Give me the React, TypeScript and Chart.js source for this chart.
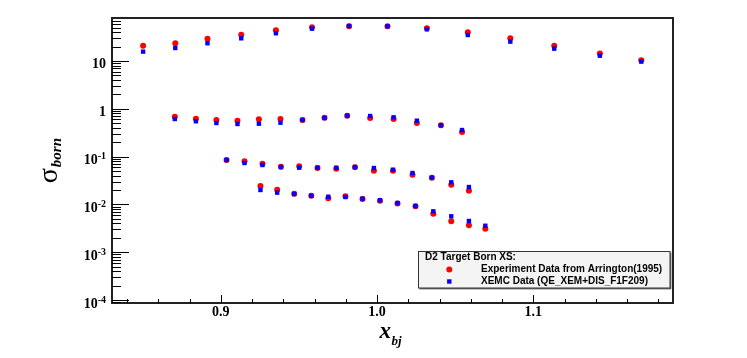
import React, { useEffect, useRef } from "react";
import { Chart, registerables } from "chart.js";

Chart.register(...registerables);

// Row 1 (highest cross sections)
const xRow1 = [0.8503, 0.8709, 0.8915, 0.9131, 0.9353, 0.9584, 0.9821, 1.0067, 1.0319, 1.0581, 1.0853, 1.1134, 1.1426, 1.1691];
const expRow1 = [20.9, 23.5, 29.3, 35.5, 43.8, 50.7, 53.2, 53.2, 48.3, 39.8, 29.8, 20.9, 14.4, 10.4];
const xemcRow1 = [15.7, 18.7, 23.5, 29.8, 38.0, 47.4, 54.0, 53.2, 46.0, 35.0, 25.4, 18.1, 12.9, 9.7];

// Row 2
const xRow2 = [0.8706, 0.8841, 0.8972, 0.9107, 0.9244, 0.9382, 0.9523, 0.9664, 0.9809, 0.9956, 1.0106, 1.0255, 1.0409, 1.0544];
const expRow2 = [0.684, 0.621, 0.583, 0.564, 0.603, 0.612, 0.583, 0.651, 0.717, 0.642, 0.612, 0.505, 0.452, 0.327];
const xemcRow2 = [0.612, 0.548, 0.505, 0.481, 0.488, 0.512, 0.583, 0.642, 0.717, 0.707, 0.664, 0.564, 0.452, 0.360];

// Row 3
const xRow3 = [0.9037, 0.9152, 0.9267, 0.9385, 0.9502, 0.9619, 0.9739, 0.9859, 0.998, 1.0102, 1.0227, 1.0351, 1.0475, 1.0588];
const expRow3 = [0.0849, 0.0797, 0.071, 0.0615, 0.0626, 0.0578, 0.0558, 0.0597, 0.0507, 0.0507, 0.0418, 0.0362, 0.0258, 0.0194];
const xemcRow3 = [0.0849, 0.0735, 0.0667, 0.0605, 0.0586, 0.0586, 0.0586, 0.0605, 0.0578, 0.0532, 0.0454, 0.0362, 0.029, 0.0231];

// Row 4 (lowest cross sections)
const xRow4 = [0.9254, 0.9361, 0.947, 0.9579, 0.9688, 0.9798, 0.9907, 1.0019, 1.0131, 1.0246, 1.036, 1.0475, 1.0588, 1.0693];
const expRow4 = [0.0243, 0.0203, 0.0168, 0.0152, 0.0134, 0.0148, 0.013, 0.0119, 0.0105, 0.00912, 0.00639, 0.00443, 0.00365, 0.0031];
const xemcRow4 = [0.02, 0.0176, 0.0165, 0.0152, 0.0145, 0.0143, 0.0132, 0.0122, 0.0107, 0.00926, 0.00717, 0.00564, 0.0045, 0.00358];

const xTickLabels = ["0.9", "1.0", "1.1"];
const yDecades = [-4, -3, -2, -1, 0, 1];

const legendHeader = "D2 Target Born XS:";
const legendExp = "Experiment Data from Arrington(1995)";
const legendXemc = "XEMC Data (QE_XEM+DIS_F1F209)";

const X_MIN = 0.8304;
const X_MAX = 1.1894;
const Y_MIN = 8.66e-5;
const Y_MAX = 79.35;

function pts(xs: number[], ys: number[]) {
  return xs.map((x, i) => ({ x, y: ys[i] }));
}

const framePlugin = {
  id: "rootFrame",
  afterDraw(chart: any) {
    const ctx: CanvasRenderingContext2D = chart.ctx;
    const a = chart.chartArea;
    const xs = chart.scales.x;
    const ys = chart.scales.y;
    ctx.save();
    // frame
    ctx.strokeStyle = "#222";
    ctx.lineWidth = 2;
    ctx.strokeRect(a.left, a.top, a.right - a.left, a.bottom - a.top);

    ctx.strokeStyle = "#000";
    ctx.lineWidth = 1;
    // x ticks every 0.02
    for (let k = 42; k <= 59; k++) {
      const v = k * 0.02;
      if (v < X_MIN || v > X_MAX) continue;
      const px = Math.round(xs.getPixelForValue(v)) + 0.5;
      const major = k % 5 === 0;
      ctx.beginPath();
      ctx.moveTo(px, a.bottom);
      ctx.lineTo(px, a.bottom - (major ? 8 : 4));
      ctx.stroke();
    }
    // y ticks (log)
    for (let e = -5; e <= 1; e++) {
      for (let m = 1; m <= 9; m++) {
        const v = m * Math.pow(10, e);
        if (v < Y_MIN || v > Y_MAX) continue;
        const py = Math.round(ys.getPixelForValue(v)) + 0.5;
        ctx.beginPath();
        ctx.moveTo(a.left, py);
        ctx.lineTo(a.left + (m === 1 ? 17 : 9), py);
        ctx.stroke();
      }
    }

    // x tick labels
    ctx.fillStyle = "#000";
    ctx.font = "bold 14px 'Liberation Serif'";
    ctx.textAlign = "center";
    ctx.textBaseline = "alphabetic";
    xTickLabels.forEach((t) => {
      const px = xs.getPixelForValue(parseFloat(t));
      ctx.fillText(t, px, a.bottom + 13);
    });

    // y tick labels
    const right = a.left - 6;
    yDecades.forEach((e) => {
      const py = ys.getPixelForValue(Math.pow(10, e));
      ctx.textAlign = "left";
      if (e === 0 || e === 1) {
        ctx.font = "bold 14px 'Liberation Serif'";
        const s = e === 0 ? "1" : "10";
        const w = ctx.measureText(s).width;
        ctx.fillText(s, right - w, py + 7);
      } else {
        ctx.font = "bold 10px 'Liberation Serif'";
        const sup = String(e);
        const sw = ctx.measureText(sup).width;
        ctx.font = "bold 14px 'Liberation Serif'";
        const bw = ctx.measureText("10").width;
        ctx.fillText("10", right - sw - bw, py + 7.5);
        ctx.font = "bold 10px 'Liberation Serif'";
        ctx.fillText(sup, right - sw, py + 2.5);
      }
    });

    // x title
    ctx.textAlign = "left";
    ctx.font = "bold italic 23px 'Liberation Serif'";
    ctx.fillText("x", 379.5, 338.3);
    ctx.font = "bold italic 13px 'Liberation Serif'";
    ctx.fillText("bj", 391.5, 345);

    // y title (rotated)
    ctx.save();
    ctx.translate(56.7, 183.3);
    ctx.rotate(-Math.PI / 2);
    ctx.font = "28px 'Liberation Serif'";
    ctx.fillText("σ", 0, 0);
    const sigW = ctx.measureText("σ").width;
    ctx.font = "bold italic 15px 'Liberation Serif'";
    ctx.fillText("born", sigW + 1, 4);
    ctx.restore();

    // legend
    const lx = 418.5, ly = 251.5, lw = 251.5, lh = 36.5;
    ctx.fillStyle = "#f4f4f4";
    ctx.fillRect(lx, ly, lw, lh);
    ctx.strokeStyle = "#333";
    ctx.lineWidth = 1;
    ctx.strokeRect(lx, ly, lw, lh);
    ctx.beginPath();
    ctx.moveTo(lx + 1, ly + lh + 0.8);
    ctx.lineTo(lx + lw + 0.8, ly + lh + 0.8);
    ctx.lineTo(lx + lw + 0.8, ly + 1);
    ctx.stroke();

    ctx.fillStyle = "#000";
    ctx.font = "bold 10px 'Liberation Sans'";
    ctx.textBaseline = "middle";
    ctx.textAlign = "left";
    ctx.fillText(legendHeader, 425, 257.5);
    ctx.fillText(legendExp, 481, 269.5);
    ctx.fillText(legendXemc, 481, 281.5);

    ctx.fillStyle = "#ff0000";
    ctx.beginPath();
    ctx.arc(449.3, 269.5, 3, 0, Math.PI * 2);
    ctx.fill();
    ctx.fillStyle = "#0000ff";
    ctx.fillRect(447.1, 279.3, 4.4, 4.4);

    ctx.restore();
  },
};

export default function App() {
  const ref = useRef<HTMLCanvasElement | null>(null);

  useEffect(() => {
    if (!ref.current) return;
    const expData = [
      ...pts(xRow1, expRow1),
      ...pts(xRow2, expRow2),
      ...pts(xRow3, expRow3),
      ...pts(xRow4, expRow4),
    ];
    const xemcData = [
      ...pts(xRow1, xemcRow1),
      ...pts(xRow2, xemcRow2),
      ...pts(xRow3, xemcRow3),
      ...pts(xRow4, xemcRow4),
    ];
    const chart = new Chart(ref.current, {
      type: "scatter",
      data: {
        datasets: [
          {
            label: legendExp,
            data: expData,
            pointStyle: "circle",
            pointRadius: 3,
            backgroundColor: "#ff0000",
            borderColor: "#ff0000",
            borderWidth: 0,
            order: 1,
          },
          {
            label: legendXemc,
            data: xemcData,
            pointStyle: "rect",
            pointRadius: 3.1,
            backgroundColor: "#0000ff",
            borderColor: "#0000ff",
            borderWidth: 0,
            order: 0,
          },
        ],
      },
      options: {
        animation: false,
        responsive: false,
        devicePixelRatio: 1,
        layout: { padding: { left: 112, top: 18, right: 74, bottom: 55 } },
        plugins: { legend: { display: false }, tooltip: { enabled: false } },
        scales: {
          x: { type: "linear", min: X_MIN, max: X_MAX, display: false },
          y: { type: "logarithmic", min: Y_MIN, max: Y_MAX, display: false },
        },
      },
      plugins: [framePlugin],
    });
    return () => chart.destroy();
  }, []);

  return (
    <div style={{ position: "fixed", left: 0, top: 0, width: 747, height: 358, background: "#fff" }}>
      <canvas ref={ref} width={747} height={358} style={{ display: "block" }} />
    </div>
  );
}
